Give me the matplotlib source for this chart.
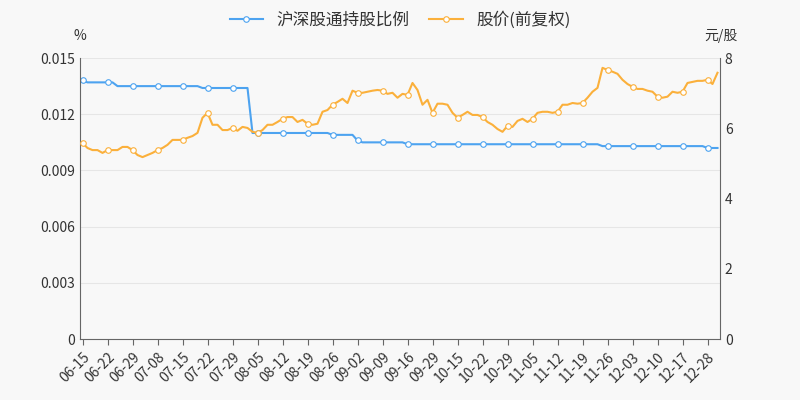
import matplotlib
matplotlib.use("Agg")
import matplotlib.pyplot as plt
import numpy as np

plt.rcParams['font.family'] = ['Noto Sans CJK SC', 'DejaVu Sans']

BG = "#f8f8f8"
BLUE = "#4da3f0"
ORANGE = "#fbb03b"
GRID = "#e6e6e6"
TXT = "#333333"
AXIS = "#666666"

tick_labels = ["06-15", "06-22", "06-29", "07-08", "07-15", "07-22", "07-29", "08-05",
               "08-12", "08-19", "08-26", "09-02", "09-09", "09-16", "09-29", "10-15",
               "10-22", "10-29", "11-05", "11-12", "11-19", "11-26", "12-03", "12-10",
               "12-17", "12-28"]
tick_step = 5

holding = ([0.0138] + [0.0137] * 6 + [0.0135] * 17 + [0.0134] * 10 + [0.0110] * 16
           + [0.0109] * 5 + [0.0106] + [0.0105] * 9 + [0.0104] * 39 + [0.0103] * 21
           + [0.0102] * 3)

price = [5.58, 5.44, 5.38, 5.38, 5.30, 5.38, 5.38, 5.38, 5.47, 5.47,
         5.38, 5.24, 5.18, 5.24, 5.30, 5.38, 5.44, 5.53, 5.67, 5.67,
         5.67, 5.73, 5.78, 5.87, 6.30, 6.44, 6.10, 6.10, 5.95, 5.95,
         6.01, 5.93, 6.04, 6.01, 5.90, 5.87, 5.95, 6.10, 6.10, 6.18,
         6.27, 6.32, 6.32, 6.18, 6.24, 6.13, 6.10, 6.13, 6.47, 6.52,
         6.67, 6.75, 6.84, 6.72, 7.07, 7.01, 7.01, 7.04, 7.07, 7.09,
         7.07, 6.98, 7.01, 6.87, 6.98, 6.95, 7.29, 7.09, 6.67, 6.81,
         6.44, 6.70, 6.70, 6.67, 6.44, 6.30, 6.38, 6.47, 6.38, 6.38,
         6.32, 6.18, 6.10, 5.98, 5.90, 6.07, 6.04, 6.21, 6.27, 6.18,
         6.27, 6.44, 6.47, 6.47, 6.44, 6.47, 6.67, 6.67, 6.72, 6.70,
         6.72, 6.87, 7.04, 7.15, 7.72, 7.66, 7.61, 7.55, 7.38, 7.26,
         7.18, 7.12, 7.12, 7.07, 7.04, 6.90, 6.87, 6.90, 7.04, 7.01,
         7.04, 7.29, 7.32, 7.35, 7.35, 7.38, 7.26, 7.58]

x = np.arange(len(price))

fig = plt.figure(figsize=(8, 4), dpi=100)
fig.patch.set_facecolor(BG)
ax = fig.add_axes([0.1, 0.152, 0.8, 0.703])
ax.set_facecolor(BG)
ax2 = ax.twinx()

l1, = ax.plot(x, holding, color=BLUE, lw=1.5, marker="o", markevery=tick_step,
              ms=4, mfc="white", mec=BLUE, mew=0.8, label="沪深股通持股比例")
l2, = ax2.plot(x, price, color=ORANGE, lw=1.5, marker="o", markevery=tick_step,
               ms=4, mfc="white", mec=ORANGE, mew=0.8, label="股价(前复权)")

ax.set_ylim(0, 0.015)
ax.set_yticks([0, 0.003, 0.006, 0.009, 0.012, 0.015])
ax.set_yticklabels(["0", "0.003", "0.006", "0.009", "0.012", "0.015"])
ax2.set_ylim(0, 8)
ax2.set_yticks([0, 2, 4, 6, 8])
ax.set_xlim(-0.5, len(price) - 0.5)
ax.set_xticks(x[::tick_step][:len(tick_labels)])
ax.set_xticklabels(tick_labels, rotation=45, ha="right", rotation_mode="anchor")

ax.grid(axis="y", color=GRID, lw=0.8)
ax.set_axisbelow(True)
for a in (ax, ax2):
    for s in a.spines.values():
        s.set_visible(False)
    a.tick_params(colors=TXT, labelsize=10, length=0)
for a, side in ((ax, "left"), (ax, "bottom"), (ax2, "right")):
    a.spines[side].set_visible(True)
    a.spines[side].set_color(AXIS)
ax.tick_params(axis="x", length=4, color=AXIS)

fig.text(0.092, 0.9, "%", fontsize=10, color=TXT)
fig.text(0.88, 0.9, "元/股", fontsize=10, color=TXT)
fig.legend(handles=[l1, l2], loc="upper center", ncol=2, frameon=False,
           fontsize=12, bbox_to_anchor=(0.5, 1.01), handlelength=2, columnspacing=1.2,
           labelcolor=TXT)

fig.savefig("out.png", facecolor=BG)
